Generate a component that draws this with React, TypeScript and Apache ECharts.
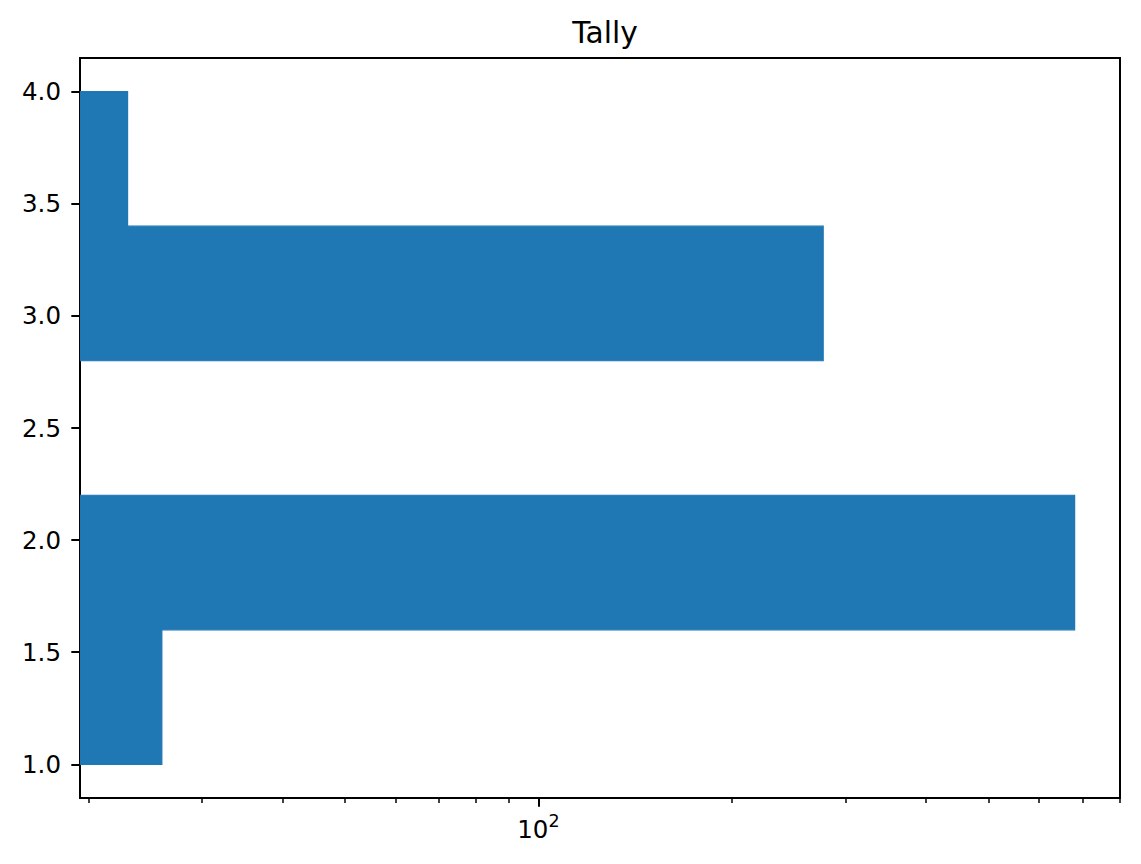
import React, { useEffect, useRef } from "react";
import * as echarts from "echarts";

const binStarts = [1.0, 1.6, 2.2, 2.8, 3.4];
const binEnds = [1.6, 2.2, 2.8, 3.4, 4.0];
const counts = [26, 681, 0, 277, 23];
const yTicks = [1.0, 1.5, 2.0, 2.5, 3.0, 3.5, 4.0];
const xMajorTicks = [100];
const xMinorTicks = [20, 30, 40, 50, 60, 70, 80, 90, 200, 300, 400, 500, 600, 700, 800];

const X_MIN = 19.4;
const X_MAX = 801;
const FONT = "DejaVu Sans";

export default function App() {
  const ref = useRef<HTMLDivElement>(null);
  useEffect(() => {
    if (!ref.current) return;
    const chart = echarts.init(ref.current, undefined, { renderer: "svg" });
    const data = binStarts.map((s, i) => [s, binEnds[i], counts[i]]);
    chart.setOption({
      animation: false,
      backgroundColor: "#fff",
      title: {
        text: "Tally",
        left: 600,
        top: 12,
        textAlign: "center",
        textStyle: { fontFamily: FONT, fontSize: 29.7, fontWeight: "normal", color: "#000" },
      },
      grid: {
        left: 80,
        right: 21,
        top: 58,
        bottom: 66,
        show: true,
        borderColor: "#000",
        borderWidth: 2,
        containLabel: false,
      },
      xAxis: [
        {
          type: "log",
          logBase: 10,
          min: X_MIN,
          max: X_MAX,
          position: "bottom",
          axisLine: { show: true, lineStyle: { color: "#000", width: 2 } },
          axisTick: {
            show: true,
            customValues: xMajorTicks,
            length: 8.7,
            lineStyle: { color: "#000", width: 2 },
          },
          axisLabel: {
            show: true,
            customValues: xMajorTicks,
            formatter: (v: number) => "{a|10}{b|" + Math.round(Math.log10(v)) + "}",
            color: "#000",
            margin: 14,
            rich: {
              a: { fontFamily: FONT, fontSize: 24.5, color: "#000", lineHeight: 30, verticalAlign: "bottom" },
              b: { fontFamily: FONT, fontSize: 17.5, color: "#000", lineHeight: 30, verticalAlign: "top" },
            },
          },
          splitLine: { show: false },
          minorTick: { show: false },
        },
        {
          type: "log",
          logBase: 10,
          min: X_MIN,
          max: X_MAX,
          position: "bottom",
          axisLine: { show: false },
          axisTick: {
            show: true,
            customValues: xMinorTicks,
            length: 5,
            lineStyle: { color: "#000", width: 1.5 },
          },
          axisLabel: { show: false },
          splitLine: { show: false },
        },
      ],
      yAxis: {
        type: "value",
        min: 0.85,
        max: 4.15,
        axisLine: { show: true, lineStyle: { color: "#000", width: 2 } },
        axisTick: {
          show: true,
          customValues: yTicks,
          length: 8.7,
          lineStyle: { color: "#000", width: 2 },
        },
        axisLabel: {
          show: true,
          customValues: yTicks,
          formatter: (v: number) => v.toFixed(1),
          fontFamily: FONT,
          fontSize: 24.5,
          color: "#000",
          margin: 19,
        },
        splitLine: { show: false },
      },
      series: [
        {
          type: "custom",
          xAxisIndex: 0,
          yAxisIndex: 0,
          clip: true,
          encode: { x: 2, y: [0, 1] },
          data,
          renderItem: (params: any, api: any) => {
            const y0 = api.value(0);
            const y1 = api.value(1);
            const c = api.value(2);
            if (!(c > 0)) return null;
            const pLeft = api.coord([1, y1]);
            const pRight = api.coord([c, y0]);
            const shape = echarts.graphic.clipRectByRect(
              {
                x: pLeft[0],
                y: pLeft[1],
                width: pRight[0] - pLeft[0],
                height: pRight[1] - pLeft[1],
              },
              {
                x: params.coordSys.x,
                y: params.coordSys.y,
                width: params.coordSys.width,
                height: params.coordSys.height,
              }
            );
            if (!shape) return null;
            return {
              type: "rect",
              shape,
              style: { fill: "#1f77b4", stroke: "#1f77b4", lineWidth: 1.2 },
            };
          },
        },
      ],
    });
    return () => chart.dispose();
  }, []);
  return (
    <div
      ref={ref}
      style={{ position: "fixed", left: 0, top: 0, width: 1141, height: 864 }}
    />
  );
}
